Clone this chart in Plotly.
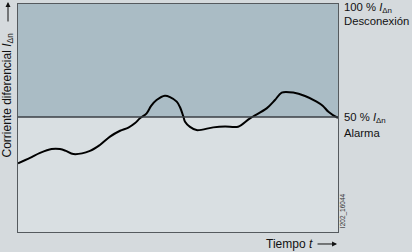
import plotly.graph_objects as go

# Data (time in % of window, differential current in % of I_Δn)
t_vals = [0, 3.75, 6.9, 10.5, 13.1, 15, 17.3, 22.5, 25.6, 28.75, 31.9, 34.5, 36.6,
          38.1, 40.2, 41.6, 43.3, 45.9, 47.5, 49.6, 50.6, 51.7, 52.2, 53.75, 55.8,
          61.0, 64.7, 68.8, 72.5, 77.7, 80.3, 82.4, 86.0, 89.7, 93.3, 95.3, 97.0, 99.6, 100]
i_vals = [29.5, 31.9, 34.1, 35.8, 35.8, 35.0, 33.6, 35.0, 37.6, 41.3, 43.9, 45.3, 47.3,
          49.4, 51.6, 54.9, 57.5, 59.4, 58.8, 56.8, 54.4, 50.1, 47.9, 45.6, 44.2,
          45.4, 45.8, 45.7, 49.4, 53.8, 57.5, 60.8, 60.8, 59.3, 56.8, 54.9, 52.3, 49.9, 49.8]
alarm_level = 50
trip_level = 100

font_family = "Liberation Sans, Arial, sans-serif"
txt = "#111111"

fig = go.Figure()
fig.add_trace(go.Scatter(x=t_vals, y=i_vals, mode="lines",
                         line=dict(color="#000000", width=2, shape="spline", smoothing=0.9),
                         hoverinfo="skip", showlegend=False))

fig.add_shape(type="rect", xref="x", yref="y", x0=0, x1=100, y0=alarm_level, y1=trip_level,
              fillcolor="#aabcc5", line=dict(width=0), layer="below")
fig.add_shape(type="line", xref="x", yref="y", x0=0, x1=100, y0=alarm_level, y1=alarm_level,
              line=dict(color="#3a3f44", width=1.5))

ann = []
def right_label(y, text, dy):
    ann.append(dict(xref="paper", yref="y", x=1, y=y, text=text, showarrow=False,
                    xanchor="left", yanchor="middle", xshift=4, yshift=dy,
                    font=dict(size=11.3, color=txt, family=font_family)))

right_label(trip_level, "100 % <i>I</i><sub>Δn</sub>", -4)
right_label(trip_level, "Desconexión", -17)
right_label(alarm_level, "50 % <i>I</i><sub>Δn</sub>", -1)
right_label(alarm_level, "Alarma", -16)

# y-axis title with arrow
ann.append(dict(xref="paper", yref="paper", x=-0.031, y=0.599,
                text="Corriente diferencial <i>I</i><sub>Δn</sub>",
                showarrow=False, textangle=-90, xanchor="center", yanchor="middle",
                font=dict(size=12, color=txt, family=font_family)))
ann.append(dict(xref="paper", yref="paper", x=-0.03125, y=1.0088, text="",
                showarrow=True, ax=0, ay=21, axref="pixel", ayref="pixel",
                arrowhead=2, arrowsize=1, arrowwidth=1, arrowcolor=txt))
# x-axis title with arrow
ann.append(dict(xref="paper", yref="paper", x=0.928, y=-0.0526, text="Tiempo <i>t</i>",
                showarrow=False, xanchor="right", yanchor="middle",
                font=dict(size=12, color=txt, family=font_family)))
ann.append(dict(xref="paper", yref="paper", x=0.997, y=-0.0526, text="",
                showarrow=True, ax=-21, ay=0, axref="pixel", ayref="pixel",
                arrowhead=2, arrowsize=1, arrowwidth=1, arrowcolor=txt))

ann.append(dict(xref="paper", yref="paper", x=1.016, y=0.092, text="I202_16044",
                showarrow=False, textangle=-90, xanchor="center", yanchor="middle",
                font=dict(size=6.5, color="#333333", family=font_family)))

fig.update_layout(
    width=412, height=252,
    margin=dict(l=18, r=74, t=4, b=20),
    paper_bgcolor="#d5dadd", plot_bgcolor="#d9dfe2",
    annotations=ann,
    xaxis=dict(range=[0, 100], showgrid=False, zeroline=False, showticklabels=False, ticks="",
               showline=True, mirror=True, linecolor="#555a5e", linewidth=1.2),
    yaxis=dict(range=[-0.9, 100], showgrid=False, zeroline=False, showticklabels=False, ticks="",
               showline=True, mirror=True, linecolor="#555a5e", linewidth=1.2),
)

fig.write_html("out.html")
